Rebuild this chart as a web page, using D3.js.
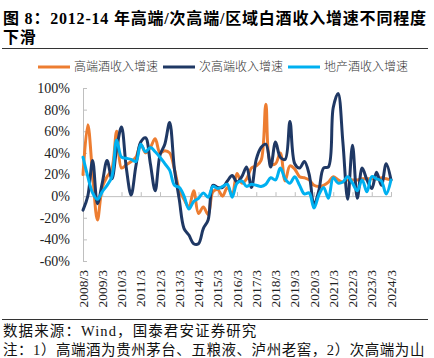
<!DOCTYPE html>
<html><head><meta charset="utf-8">
<script src="https://cdn.jsdelivr.net/npm/d3@7"></script>
<style>body{margin:0;background:#fff} svg{display:block}</style>
</head><body><svg id="c" width="434" height="358"></svg>
<script>
// ---- data ----
const xLabels = ["2008/3","2009/3","2010/3","2011/3","2012/3","2013/3","2014/3","2015/3","2016/3","2017/3","2018/3","2019/3","2020/3","2021/3","2022/3","2023/3","2024/3"];
const yTicks = [-60,-40,-20,0,20,40,60,80,100];
const seriesNames = ["高端酒收入增速","次高端收入增速","地产酒收入增速"];
// quarterly, 2008Q1 .. 2024Q1 (%)
const highEnd = [20,66,20,-22,8,18,25,60,26,29,32,36,48,40,45,53,40,42,40,25,6,-3,-10,5,-16,-10,-17,4,6,0,8,2,21,12,16,26,28,33,85,30,30,40,14,28,25,18,17,15,10,9,10,13,18,15,13,15,15,15,16,16,16,16,17,16,15];
const subHighEnd = [-13,0,33,-7,12,33,16,44,64,26,1,28,50,54,30,5,38,48,68,25,-3,-30,-36,-44,-44,-30,-22,10,8,8,14,19,13,18,27,8,34,45,48,27,50,36,34,69,30,26,32,20,-8,5,26,27,82,95,50,-3,47,-2,26,15,7,22,10,30,15];
const regional = [36,18,3,-3,4,10,18,52,36,35,34,32,48,41,45,41,36,30,24,10,8,0,-12,-5,-2,3,-1,9,7,9,11,-1,12,14,9,11,10,9,11,17,15,26,16,12,18,10,2,3,-11,1,8,-2,17,12,13,18,12,5,15,4,18,16,14,2,15];

const colors = ["#ED7D31","#1F3864","#00B0F0"];
const series = [highEnd, subHighEnd, regional];

const svg = d3.select("#c");
const serif = "'Liberation Serif','Times New Roman','Noto Sans CJK SC',serif";
const cjk = "'Noto Sans CJK SC','Liberation Serif',sans-serif";

// ---- title ----
svg.append("text").attr("x",3).attr("y",24)
  .attr("font-family",serif).attr("font-weight","bold").attr("font-size",16).attr("fill","#000")
  .attr("letter-spacing",0.8)
  .text("图 8：2012-14 年高端/次高端/区域白酒收入增速不同程度");
svg.append("text").attr("x",3).attr("y",43)
  .attr("font-family",serif).attr("font-weight","bold").attr("font-size",16).attr("fill","#000")
  .attr("letter-spacing",0.8)
  .text("下滑");
svg.append("line").attr("x1",2).attr("x2",428).attr("y1",48.5).attr("y2",48.5)
  .attr("stroke","#333").attr("stroke-width",1);

// ---- scales ----
const x = d3.scaleLinear().domain([0, 64]).range([83, 391]);
const y = d3.scaleLinear().domain([-60, 100]).range([261, 88]);

// ---- y axis ----
const yAxis = d3.axisLeft(y).tickValues(yTicks).tickFormat(d => d + "%").tickSize(-4).tickPadding(13);
const gy = svg.append("g").attr("transform","translate(83,0)").call(yAxis);
gy.select(".domain").attr("stroke","#BFBFBF");
gy.selectAll(".tick line").attr("stroke","#BFBFBF");
gy.selectAll(".tick text").attr("font-family",serif).attr("font-size",14).attr("fill","#222");

// ---- x axis at zero ----
const xAxis = d3.axisBottom(x).tickValues(d3.range(0, 65, 4)).tickFormat("").tickSize(-4);
const gx = svg.append("g").attr("transform",`translate(0,${y(0)})`).call(xAxis);
gx.select(".domain").attr("stroke","#BFBFBF");
gx.selectAll(".tick line").attr("stroke","#BFBFBF");

// rotated x labels at bottom
svg.append("g").selectAll("text").data(xLabels).join("text")
  .attr("transform",(d,i)=>`translate(${x(i*4)+4.5},270) rotate(-90)`)
  .attr("text-anchor","end")
  .attr("font-family",serif).attr("font-size",13.5).attr("fill","#222")
  .text(d=>d);

// ---- lines ----
const line = d3.line().x((d,i)=>x(i)).y(d=>y(d)).curve(d3.curveCatmullRom.alpha(0.5));
svg.append("g").selectAll("path").data(series).join("path")
  .attr("d", d=>line(d)).attr("fill","none")
  .attr("stroke",(d,i)=>colors[i]).attr("stroke-width",3)
  .attr("stroke-linejoin","round").attr("stroke-linecap","round");

// ---- legend ----
const legX = [38,163,288];
const lg = svg.append("g").selectAll("g").data(seriesNames).join("g")
  .attr("transform",(d,i)=>`translate(${legX[i]},67)`);
lg.append("line").attr("x1",0).attr("x2",32).attr("y1",0).attr("y2",0)
  .attr("stroke",(d,i)=>colors[i]).attr("stroke-width",3);
lg.append("text").attr("x",36).attr("y",0).attr("dy","0.35em")
  .attr("font-family",cjk).attr("font-size",12).attr("font-weight",300).attr("fill","#333").text(d=>d);

// ---- footer ----
svg.append("line").attr("x1",2).attr("x2",428).attr("y1",319.5).attr("y2",319.5)
  .attr("stroke","#333").attr("stroke-width",1);
svg.append("text").attr("x",3).attr("y",336)
  .attr("font-family",serif).attr("font-size",14.5).attr("fill","#111").attr("letter-spacing",1.1)
  .text("数据来源：Wind，国泰君安证券研究");
svg.append("text").attr("x",3).attr("y",355)
  .attr("font-family",serif).attr("font-size",14.5).attr("fill","#111").attr("letter-spacing",0.55)
  .text("注：1）高端酒为贵州茅台、五粮液、泸州老窖，2）次高端为山");
</script>
</body></html>
